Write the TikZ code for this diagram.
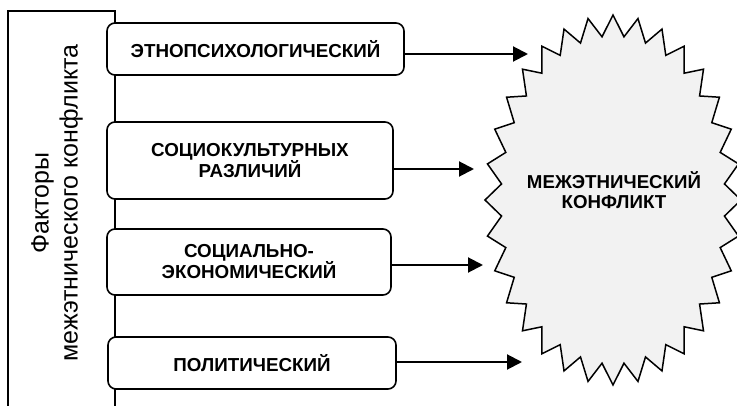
\documentclass[tikz,border=0pt]{standalone}
\usepackage{fontspec}
\setmainfont{Liberation Sans}
\usetikzlibrary{arrows.meta}
\definecolor{starfill}{HTML}{F2F2F2}
\begin{document}
\begin{tikzpicture}[x=1pt,y=-1pt,
  factor/.style={draw, line width=1.6pt, rounded corners=8pt, fill=white,
    align=center, inner sep=0pt, font=\bfseries\fontsize{18.8}{21}\selectfont},
  link/.style={line width=2pt, -{Triangle[length=15pt,width=15pt]}},
  frame/.style={line width=1.6pt}]
\useasboundingbox (0,0) rectangle (737,406);

% frame holding the list of factors, open at the bottom
\draw[frame] (8,406) -- (8,11) -- (115,11) -- (115,406);
\node[rotate=90, align=center, font=\fontsize{25}{29}\selectfont]
  (title) at (57,203) {Факторы\\межэтнического конфликта};

% factors
\node[factor, minimum width=297pt, minimum height=52pt] (b1) at (255.5,49)
  {ЭТНОПСИХОЛОГИЧЕСКИЙ};
\node[factor, minimum width=286pt, minimum height=77pt] (b2) at (250,160.5)
  {СОЦИОКУЛЬТУРНЫХ\\РАЗЛИЧИЙ};
\node[factor, minimum width=284pt, minimum height=66pt] (b3) at (249,262)
  {СОЦИАЛЬНО-\\ЭКОНОМИЧЕСКИЙ};
\node[factor, minimum width=288pt, minimum height=52pt] (b4) at (252,363)
  {ПОЛИТИЧЕСКИЙ};

% jagged star for the conflict
\draw[line width=1.5pt, fill=starfill, line join=miter]
  (613,15) \foreach \i in {0,...,31}{
    -- ({613+112*cos(95.625+\i*11.25)},{200-164*sin(95.625+\i*11.25)})
    -- ({613+128*cos(90+(\i+1)*11.25)},{200-185*sin(90+(\i+1)*11.25)})
  } -- cycle;
\node[align=center, font=\bfseries\fontsize{18.7}{20}\selectfont]
  (conflict) at (614,190) {МЕЖЭТНИЧЕСКИЙ\\КОНФЛИКТ};

% arrow tips in front of the star
\coordinate (t1) at (528,54);
\coordinate (t2) at (474,169);
\coordinate (t3) at (483,265);
\coordinate (t4) at (522,362);
\draw[link] (b1.east |- t1) -- (t1);
\draw[link] (b2.east |- t2) -- (t2);
\draw[link] (b3.east |- t3) -- (t3);
\draw[link] (b4.east |- t4) -- (t4);
\end{tikzpicture}
\end{document}
